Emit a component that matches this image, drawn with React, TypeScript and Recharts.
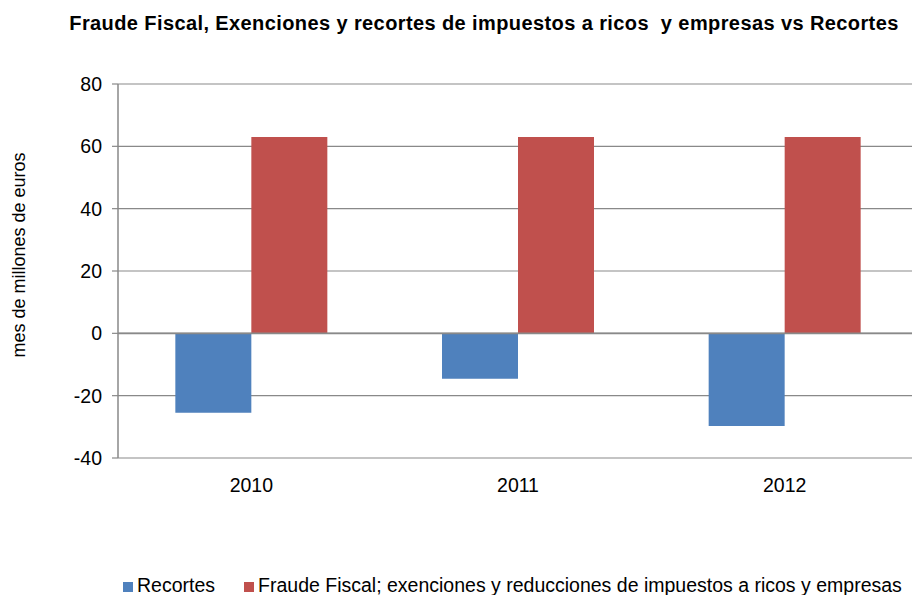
import {
  Bar,
  BarChart,
  CartesianGrid,
  Label,
  Legend,
  ReferenceLine,
  XAxis,
  YAxis,
} from "recharts";

const years = ["2010", "2011", "2012"];
const recortes = [-25.5, -14.6, -29.7];
const fraude = [63, 63, 63];
const yTicks = [-40, -20, 0, 20, 40, 60, 80];

const data = years.map((year, i) => ({
  year,
  recortes: recortes[i],
  fraude: fraude[i],
}));

const font = "'Liberation Sans', Arial, sans-serif";
const gray = "#898989";

function LegendContent() {
  const items = [
    { color: "#4F81BD", label: "Recortes" },
    {
      color: "#C0504D",
      label:
        "Fraude Fiscal; exenciones y reducciones de impuestos a ricos y empresas",
    },
  ];
  return (
    <div
      style={{
        height: 30,
        display: "flex",
        alignItems: "center",
        paddingLeft: 123,
        paddingTop: 10,
        boxSizing: "border-box",
        fontFamily: font,
        fontSize: 19.5,
        lineHeight: "20px",
        color: "#000",
        whiteSpace: "nowrap",
      }}
    >
      {items.map((it, i) => (
        <span
          key={it.label}
          style={{ display: "flex", alignItems: "center", marginRight: i === 0 ? 29 : 0 }}
        >
          <span
            style={{
              display: "inline-block",
              width: 10,
              height: 10,
              background: it.color,
              marginRight: 4,
              position: "relative",
              top: 2,
            }}
          />
          {it.label}
        </span>
      ))}
    </div>
  );
}

export default function App() {
  return (
    <div
      style={{
        position: "absolute",
        left: 0,
        top: 0,
        width: 912,
        height: 595,
        overflow: "hidden",
        background: "#fff",
      }}
    >
      <div
        style={{
          position: "absolute",
          top: 12,
          left: 0,
          width: 968,
          textAlign: "center",
          fontFamily: font,
          fontWeight: "bold",
          fontSize: 20,
          letterSpacing: 0.4,
          whiteSpace: "pre",
          zIndex: 2,
        }}
      >
        {"Fraude Fiscal, Exenciones y recortes de impuestos a ricos  y empresas vs Recortes"}
      </div>
      <BarChart
        width={920}
        height={595}
        data={data}
        margin={{ top: 84, right: 2, left: 0, bottom: 0 }}
        barCategoryGap="21.5%"
        barGap={0}
      >
        <CartesianGrid vertical={false} stroke={gray} strokeWidth={1.2} />
        <XAxis
          dataKey="year"
          axisLine={false}
          tickLine={false}
          tickSize={0}
          tickMargin={20}
          height={107}
          tick={{ fill: "#000", fontSize: 19.5, fontFamily: font }}
        />
        <YAxis
          width={118}
          domain={[-40, 80]}
          ticks={yTicks}
          interval={0}
          axisLine={{ stroke: gray, strokeWidth: 1.5 }}
          tickLine={{ stroke: gray, strokeWidth: 1.2 }}
          tickSize={6}
          tickMargin={10}
          tick={{ fill: "#000", fontSize: 19.5, fontFamily: font }}
        >
          <Label
            content={() => (
              <text
                x={20}
                y={255}
                transform="rotate(-90 20 255)"
                textAnchor="middle"
                dominantBaseline="middle"
                fontSize={18}
                fontFamily={font}
                fill="#000"
              >
                mes de millones de euros
              </text>
            )}
          />
        </YAxis>
        <ReferenceLine y={0} stroke={gray} strokeWidth={1.6} />
        <Legend verticalAlign="bottom" content={LegendContent} />
        <Bar dataKey="recortes" name="Recortes" fill="#4F81BD" isAnimationActive={false} />
        <Bar
          dataKey="fraude"
          name="Fraude Fiscal; exenciones y reducciones de impuestos a ricos y empresas"
          fill="#C0504D"
          isAnimationActive={false}
        />
      </BarChart>
    </div>
  );
}
